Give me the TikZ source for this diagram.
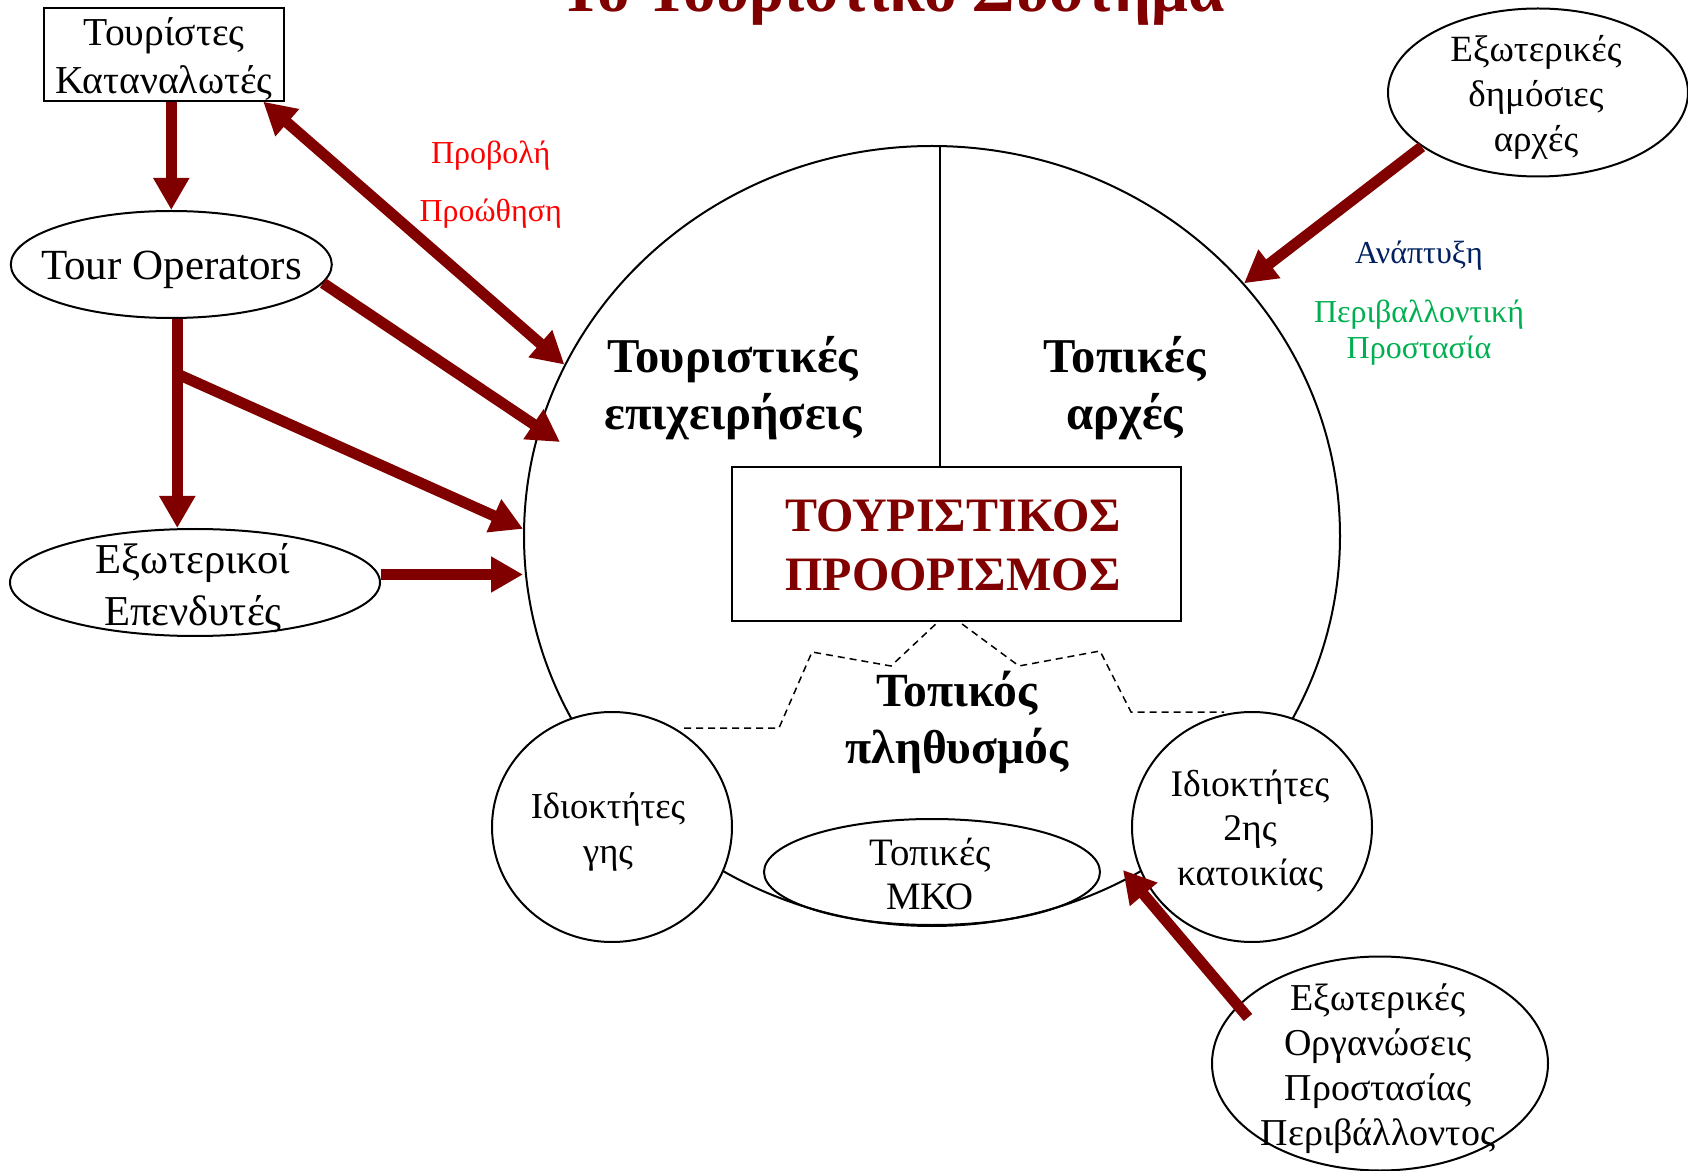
\documentclass[tikz,border=0pt]{standalone}
\usepackage{fontspec}
\setmainfont{Liberation Serif}
\usepackage{xcolor}
\usepackage{tikz}
\usetikzlibrary{positioning}
\usetikzlibrary{shapes.geometric}
\usetikzlibrary{arrows.meta}

\definecolor{bordo}{HTML}{800000}
\definecolor{navy}{HTML}{002060}
\definecolor{prasino}{HTML}{00B050}
\newcommand{\fsz}[2]{\fontsize{#1}{#2}\selectfont}

\begin{document}
\begin{tikzpicture}[
		x=0.5pt, y=-0.5pt,
		box/.style={draw, rectangle, line width=1pt, inner sep=0pt},
		oval/.style={draw, ellipse, line width=1pt, inner sep=0pt},
		txt/.style={align=center, inner sep=0pt, font=\fsz{19}{22.5}},
		bold/.style={align=center, inner sep=0pt, font=\bfseries\fsz{24.3}{28.5}},
		note/.style={inner sep=0pt, anchor=base, font=\fsz{16}{18}},
		arrow/.style={-{Triangle[length=16pt,width=17pt]}, line width=5.5pt, draw=bordo},
		dblarrow/.style={{Triangle[length=16pt,width=17pt]}-{Triangle[length=16pt,width=17pt]}, line width=5.5pt, draw=bordo}
		]
		
		\useasboundingbox (0,0) rectangle (1688,1171);
		
		% Τίτλος (κομμένος στο πάνω άκρο)
		\node[inner sep=0pt, anchor=base, text=bordo, font=\bfseries\fsz{32.5}{36}] (title) at (892,12) {Το Τουριστικό Σύστημα};
		
		% Ο τουριστικός προορισμός
		\node[oval, minimum width=408pt, minimum height=390pt] (dest) at (932,536) {};
		\node[box, fill=white, minimum width=224.5pt, minimum height=76.7pt] (pd) at (956,544) {};
		\draw[line width=1pt] ([xshift=4pt]dest.north) -- ([xshift=4pt]dest.north |- pd.north);
		\node[bold, text=bordo, font=\bfseries\fsz{24}{29.5}] (pdT) at (953,545) {ΤΟΥΡΙΣΤΙΚΟΣ\\ΠΡΟΟΡΙΣΜΟΣ};
		\node[bold] (biz) at (733,388) {Τουριστικές\\επιχειρήσεις};
		\node[bold] (auth) at (1125,388) {Τοπικές\\αρχές};
		
		% Τοπικός πληθυσμός
		\draw[line width=0.75pt, dash pattern=on 3.5pt off 2.5pt] (684,728) -- (779,728) -- (812,652) -- (891,666) -- (939,621) -- (958,621) -- (1019,666) -- (1100,651) -- (1131,712) -- (1224,712);
		\node[bold, font=\bfseries\fsz{23.8}{28.25}] (pop) at (957,722.5) {Τοπικός\\πληθυσμός};
		\node[oval, fill=white, minimum width=120pt, minimum height=115pt] (own1) at (612,827) {};
		\node[oval, fill=white, minimum width=120pt, minimum height=115pt] (own2) at (1252,827) {};
		\node[oval, minimum width=168pt, minimum height=53pt] (ngo) at (932,872) {};
		\node[txt, font=\fsz{18.3}{22.5}] (own1T) at (608,831.7) {Ιδιοκτήτες\\γης};
		\node[txt, font=\fsz{18.8}{22.25}] (own2T) at (1250,830.8) {Ιδιοκτήτες\\2ης\\κατοικίας};
		\node[txt, font=\fsz{19.4}{22}] (ngoT) at (930,874) {Τοπικές\\ΜΚΟ};
		
		% Εξωτερικοί παράγοντες
		\node[box, minimum width=120.2pt, minimum height=46.2pt] (tour) at (164,54.5) {};
		\node[txt, font=\fsz{19.8}{24}] (tourT) at (164,59) {Τουρίστες\\Καταναλωτές};
		\node[oval, minimum width=160.5pt, minimum height=53.5pt] (to) at (171.3,264.5) {};
		\node[txt, anchor=base, font=\fsz{21.5}{25}] (toT) at (171.6,280) {Tour Operators};
		\node[oval, minimum width=185pt, minimum height=53.5pt] (inv) at (195,582.5) {};
		\node[txt, font=\fsz{21.3}{26}] (invT) at (193,588) {Εξωτερικοί\\Επενδυτές};
		\node[oval, minimum width=150pt, minimum height=84pt] (pub) at (1538,92.5) {};
		\node[txt, font=\fsz{18.5}{22.5}] (pubT) at (1536,97.3) {Εξωτερικές\\δημόσιες\\αρχές};
		\node[oval, minimum width=168pt, minimum height=107pt] (oep) at (1380,1063.5) {};
		\node[txt] (oepT) at (1378,1068.3) {Εξωτερικές\\Οργανώσεις\\Προστασίας\\Περιβάλλοντος};
		
		% Ετικέτες
		\node[note, text=red] (proj) at (490.7,163.3) {Προβολή};
		\node[note, text=red] (prom) at (490.7,222) {Προώθηση};
		\node[note, text=navy] (dev) at (1419,264) {Ανάπτυξη};
		\node[note, text=prasino, anchor=center, align=center] (env) at (1419,333) {Περιβαλλοντική\\Προστασία};
		
		% Βέλη
		\draw[arrow] (to.north |- tour.south) -- (to.north);
		\draw[dblarrow] ([xshift=-11pt]tour.south east) -- (dest.155);
		\draw[arrow] (to.353) -- ([shift={(-372,-94)}]dest.center);
		\coordinate (fork) at ([shift={(6,55)}]to.south);
		\draw[arrow] (fork) -- (dest.179);
		\draw[arrow] ([shift={(6,0)}]to.south) -- ([shift={(6,0)}]to.south |- inv.north);
		\draw[arrow] ([shift={(0,-8)}]inv.east) -- ([shift={(0,-8)}]inv.east -| dest.west);
		\draw[arrow] (pub.205) -- (dest.39);
		\draw[arrow] ([shift={(-132,-46)}]oep.center) -- ([shift={(-129,43)}]own2.center);
		
	\end{tikzpicture}
\end{document}
